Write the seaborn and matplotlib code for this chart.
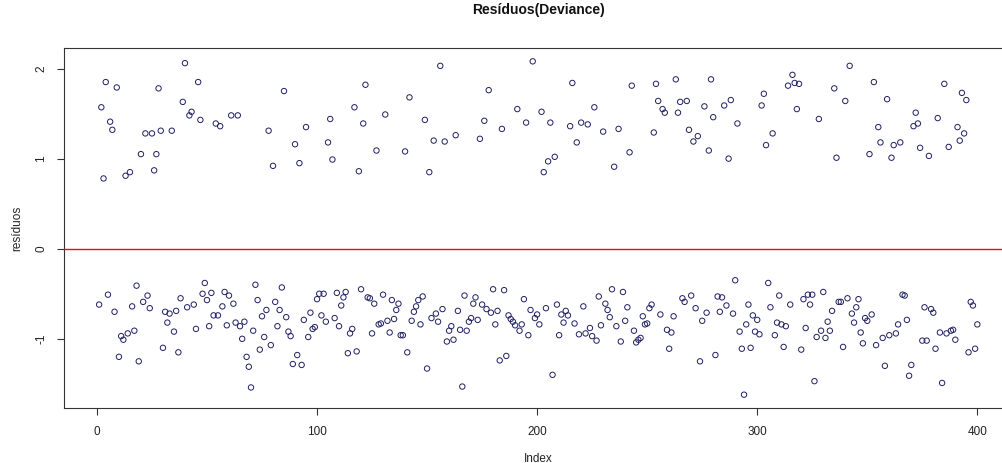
import numpy as np
import pandas as pd
import seaborn as sns
import matplotlib
matplotlib.use("Agg")
import matplotlib.pyplot as plt

# Deviance residuals of the fitted model, in observation order
residuos_001_100 = [
    -0.62, 1.57, 0.78, 1.85, -0.51, 1.41, 1.32, -0.70, 1.79, -1.20,
    -0.97, -1.01, 0.81, -0.94, 0.85, -0.64, -0.91, -0.41, -1.25, 1.05,
    -0.59, 1.28, -0.52, -0.66, 1.28, 0.87, 1.05, 1.78, 1.31, -1.10,
    -0.70, -0.82, -0.72, 1.31, -0.92, -0.69, -1.15, -0.55, 1.63, 2.06,
    -0.65, 1.48, 1.52, -0.62, -0.89, 1.85, 1.43, -0.50, -0.38, -0.57,
    -0.86, -0.49, -0.74, 1.39, -0.74, 1.36, -0.64, -0.48, -0.85, -0.52,
    1.48, -0.61, -0.82, 1.48, -0.86, -1.00, -0.81, -1.20, -1.31, -1.54,
    -0.91, -0.40, -0.57, -1.12, -0.75, -0.98, -0.68, 1.31, -1.07, 0.92,
    -0.59, -0.86, -0.68, -0.43, 1.75, -0.76, -0.92, -0.97, -1.28, 1.16,
    -1.18, 0.95, -1.29, -0.79, 1.35, -0.98, -0.71, -0.89, -0.87, -0.56,
]
residuos_101_200 = [
    -0.50, -0.74, -0.50, -0.81, 1.18, 1.44, 0.99, -0.77, -0.49, -0.86,
    -0.63, -0.54, -0.48, -1.16, -0.94, -0.89, 1.57, -1.14, 0.86, -0.45,
    1.39, 1.82, -0.54, -0.55, -0.94, -0.61, 1.09, -0.84, -0.83, -0.51,
    1.49, -0.80, -0.93, -0.57, -0.78, -0.68, -0.61, -0.96, -0.96, 1.08,
    -1.15, 1.68, -0.80, -0.70, -0.64, -0.57, -0.84, -0.53, 1.43, -1.33,
    0.85, -0.77, 1.20, -0.72, -0.81, 2.03, -0.67, 1.19, -1.03, -0.91,
    -0.86, -1.01, 1.26, -0.69, -0.90, -1.53, -0.52, -0.91, -0.81, -0.77,
    -0.61, -0.54, -0.79, 1.22, -0.62, 1.42, -0.67, 1.76, -0.71, -0.45,
    -0.84, -0.69, -1.24, 1.33, -0.46, -1.19, -0.74, -0.78, -0.81, -0.85,
    1.55, -0.91, -0.84, -0.56, 1.40, -0.96, -0.68, 2.08, -0.77, -0.73,
]
residuos_201_300 = [
    -0.84, 1.52, 0.85, -0.66, 0.97, 1.40, -1.40, 1.02, -0.62, -0.96,
    -0.73, -0.82, -0.69, -0.74, 1.36, 1.84, -0.83, 1.18, -0.95, 1.40,
    -0.64, -0.94, 1.38, -0.88, -0.97, 1.57, -1.02, -0.53, -0.85, 1.30,
    -0.61, -0.68, -0.76, -0.45, 0.91, -0.86, 1.33, -1.03, -0.48, -0.80,
    -0.65, 1.07, 1.81, -0.91, -1.04, -1.01, -0.99, -0.75, -0.84, -0.83,
    -0.66, -0.62, 1.29, 1.83, 1.64, -0.73, 1.55, 1.51, -0.90, -1.11,
    -0.93, -0.75, 1.88, 1.51, 1.63, -0.55, -0.59, 1.64, 1.32, -0.52,
    1.19, -0.66, 1.25, -1.25, -0.80, 1.58, -0.71, 1.09, 1.88, 1.46,
    -1.18, -0.53, -0.70, -0.54, 1.59, -0.63, 1.00, 1.65, -0.72, -0.35,
    1.39, -0.92, -1.11, -1.62, -0.84, -0.62, -1.10, -0.74, -0.92, -0.79,
]
residuos_301_400 = [
    -0.95, 1.59, 1.72, 1.15, -0.38, -0.65, 1.28, -0.96, -0.82, -0.52,
    -0.84, -1.09, -0.86, 1.81, -0.62, 1.93, 1.84, 1.55, 1.83, -1.12,
    -0.56, -0.88, -0.51, -0.62, -0.51, -1.47, -0.98, 1.44, -0.91, -0.48,
    -0.99, -0.81, -0.91, -0.69, 1.78, 1.01, -0.59, -0.59, -1.09, 1.64,
    -0.55, 2.03, -0.72, -0.82, -0.65, -0.56, -0.93, -1.05, -0.77, -0.80,
    1.05, -0.73, 1.85, -1.07, 1.35, 1.18, -0.99, -1.30, 1.66, -0.96,
    1.01, 1.15, -0.94, -0.84, 1.18, -0.51, -0.52, -0.79, -1.41, -1.29,
    1.36, 1.51, 1.39, 1.12, -1.02, -0.65, -1.02, 1.03, -0.67, -0.71,
    -1.11, 1.45, -0.93, -1.49, 1.83, -0.94, 1.13, -0.91, -0.90, -1.01,
    1.35, 1.20, 1.73, 1.28, 1.65, -1.15, -0.59, -0.63, -1.11, -0.84,
]

x_ticks = [0, 100, 200, 300, 400]
y_ticks = [-1, 0, 1, 2]
titulo = "Resíduos(Deviance)"
rotulo_x = "Index"
rotulo_y = "resíduos"

residuos = residuos_001_100 + residuos_101_200 + residuos_201_300 + residuos_301_400
df = pd.DataFrame({"Index": np.arange(1, len(residuos) + 1), "residuos": residuos})

sns.set_theme(style="ticks")
plt.rcParams["font.family"] = ["Liberation Sans", "DejaVu Sans"]

W, H = 1002, 463
fig = plt.figure(figsize=(W / 100, H / 100), dpi=100)
fig.patch.set_facecolor("white")

# plot region in pixels: left 64, top 48, bottom 408; R-style 4% padding on ranges
x_lo, x_hi = df["Index"].min(), df["Index"].max()
y_lo, y_hi = df["residuos"].min(), df["residuos"].max()
xpad = 0.04 * (x_hi - x_lo)
ypad = 0.04 * (y_hi - y_lo)
px_per_idx = 2.201
ax_w_px = (x_hi - x_lo + 2 * xpad) * px_per_idx
ax = fig.add_axes([64 / W, (H - 408) / H, ax_w_px / W, 360 / H])
ax.set_facecolor("white")

pt_color = "#1f1f62"
sns.scatterplot(data=df, x="Index", y="residuos", ax=ax, marker="o", s=15,
                linewidth=0.7, legend=False, zorder=3)
pts = ax.collections[0]
pts.set_facecolor("none")
pts.set_edgecolor(pt_color)

# reference line at zero
ax.axhline(0, color="#ff0000", lw=1.0, zorder=4)

ax.set_xlim(x_lo - xpad, x_hi + xpad)
ax.set_ylim(y_lo - ypad, y_hi + ypad)
ax.set_xticks(x_ticks)
ax.set_yticks(y_ticks)
ax.set_yticklabels([str(v) for v in y_ticks], rotation=90, va="center")

frame = "#333333"
for side in ["left", "right", "top", "bottom"]:
    ax.spines[side].set_visible(True)
    ax.spines[side].set_color(frame)
    ax.spines[side].set_linewidth(0.8)
ax.tick_params(direction="out", length=5, width=0.8, color=frame,
               labelsize=8.5, labelcolor="#222222")
ax.tick_params(axis="x", pad=8)
ax.tick_params(axis="y", pad=7)

ax.set_xlabel(rotulo_x, fontsize=8.5, color="#222222")
ax.xaxis.set_label_coords(0.5, (408 - 459) / 360)
ax.xaxis.label.set_va("center")
ax.set_ylabel(rotulo_y, fontsize=8.5, color="#222222")
ax.yaxis.set_label_coords((17 - 64) / ax_w_px, 0.5)
ax.yaxis.label.set_va("center")

ax.set_title(titulo, fontsize=10, fontweight="bold", color="#111111",
             y=(408 - 18) / 360, va="center")

fig.savefig("out.png", dpi=100)
